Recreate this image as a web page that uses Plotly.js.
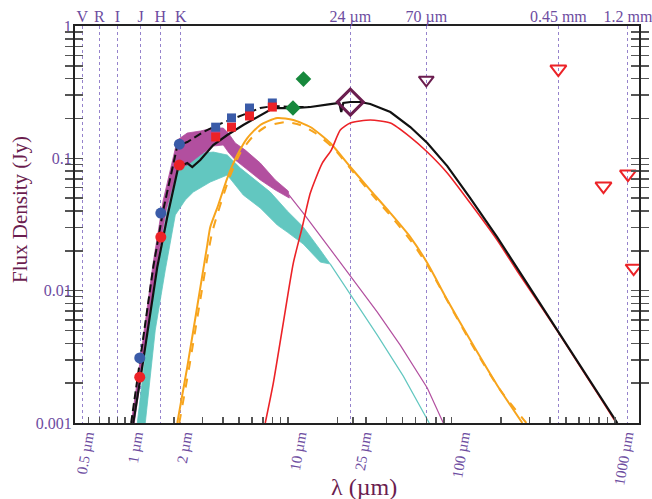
<!DOCTYPE html>
<html><head><meta charset="utf-8">
<script src="https://cdn.plot.ly/plotly-3.0.1.min.js"></script>
<style>html,body{margin:0;padding:0;background:#fff}#chart{width:652px;height:499px}</style>
</head><body><div id="chart"></div>
<script>
// ---- total model (solid black) ----
const modelLam = [1.127,1.298,1.581,1.820,2.125,2.413,2.589,2.898,3.48,4.24,5.31,6.75,8.11,10.75,13.66,18.1,20.55,21.13,21.74,24.0,27.6,31.8,42.2,55.9,71.0,94.1,130,190,252,335,444,588,779,1033];
const modelF   = [0.001,0.00299,0.0151,0.0360,0.0860,0.0921,0.0860,0.0971,0.1261,0.150,0.1786,0.2125,0.2399,0.2399,0.2443,0.2572,0.2618,0.2239,0.2618,0.2664,0.2664,0.2572,0.2239,0.1725,0.1305,0.0874,0.0501,0.0254,0.01482,0.00865,0.00504,0.00294,0.00171,0.001];
// ---- alternative model (dashed black) ----
const altLam = [1.094,1.244,1.494,1.720,2.096,2.413,2.626,3.023,3.682,4.423,5.62,6.75,8.11,10.75,13.66];
const altF   = [0.001,0.00299,0.01508,0.0407,0.1239,0.1328,0.1424,0.158,0.1786,0.1948,0.220,0.2399,0.2485,0.2443,0.2443];
// ---- cold blackbody (red) ----
const coldLam = [7.24,8.11,9.33,10.75,12.2,13.66,16.17,18.36,20.84,24.0,31.8,42.2,55.9,71.0,94.1,130,190,252,335,444,588,779,1004];
const coldF   = [0.001,0.0020,0.00569,0.01617,0.0303,0.0547,0.0921,0.1155,0.1637,0.1849,0.1948,0.1849,0.1448,0.1116,0.0775,0.0459,0.0241,0.01406,0.00834,0.00495,0.00289,0.00168,0.00103];
// ---- warm blackbody (orange solid / dashed) ----
const warmLam = [2.096,2.413,2.818,3.198,3.337,3.734,4.24,4.881,5.62,6.75,8.58,10.75,13.66,18.1,24.0,31.8,42.2,55.9,71.0,94.1,130,190,271];
const warmF   = [0.001,0.00265,0.0085,0.0221,0.0303,0.0444,0.0710,0.1059,0.1424,0.1786,0.2017,0.1948,0.1725,0.1305,0.086,0.0576,0.0386,0.0254,0.01617,0.0085,0.00423,0.00193,0.001];
const warm2Lam = [2.156,2.481,2.898,3.432,4.36,5.092,6.03,7.244,9.6,11.86,14.65,18.88,25.0,33.2,44.0,58.3,74.1,98.2,135.8,198.6,286.6];
const warm2F   = [0.001,0.00265,0.0085,0.0277,0.071,0.1096,0.1448,0.1725,0.1881,0.1786,0.1553,0.1197,0.0788,0.0519,0.0348,0.0225,0.0143,0.00765,0.00375,0.00177,0.001];
// ---- magenta spectrum (upper / lower envelope, then tail) ----
const magHiLam = [1.096,1.244,1.494,1.72,2.096,2.413,2.898,3.48,4.007,4.298,4.746,5.464,6.751,8.340,10.01];
const magHiF   = [0.001,0.00299,0.01644,0.0484,0.1375,0.1553,0.1608,0.1695,0.1695,0.1553,0.1305,0.1155,0.0921,0.0686,0.0566];
const magLoLam = [1.143,1.298,1.559,1.795,2.096,2.413,2.898,3.48,4.007,4.298,4.746,5.464,6.751,8.340,10.16];
const magLoF   = [0.001,0.00289,0.01508,0.0407,0.0845,0.089,0.1059,0.1239,0.1261,0.1116,0.0971,0.0845,0.0686,0.0576,0.0501];
const magTailLam = [10.1,12.37,17.35,24.0,35.11,48.5,71.0,88.96];
const magTailF   = [0.053,0.0386,0.0221,0.01289,0.00689,0.00388,0.00184,0.001];
// ---- cyan spectrum ----
const cyaHiLam = [1.193,1.335,1.537,1.770,2.038,2.186,2.626,3.023,3.48,4.24,5.092,6.115,7.773,9.874,12.37,15.72,18.1];
const cyaHiF   = [0.001,0.00326,0.01203,0.0342,0.0788,0.0860,0.1005,0.1096,0.1116,0.1059,0.0845,0.0710,0.0556,0.040,0.0303,0.0203,0.01589];
const cyaLoLam = [1.335,1.537,1.770,2.038,2.346,2.626,3.337,4.24,5.312,6.751,8.579,9.874,12.37,15.72,18.1];
const cyaLoF   = [0.001,0.00504,0.0143,0.0373,0.0484,0.0556,0.0662,0.0748,0.0528,0.0421,0.0313,0.0277,0.0225,0.01644,0.01589];
const cyaTailLam = [18.1,24.0,35.11,50.63,73.0];
const cyaTailF   = [0.01589,0.00942,0.00462,0.00226,0.001];
// ---- photometry ----
const nirLam = [1.235,1.662,2.159];
const nirBlue = [0.0031,0.0386,0.128];
const nirRed  = [0.00222,0.0254,0.089];
const iracLam = [3.6,4.5,5.8,8.0];
const iracBlue = [0.172,0.202,0.240,0.262];
const iracRed  = [0.145,0.172,0.209,0.244];
const greenLam = [10.7,12.4];
const greenF   = [0.240,0.397];
const mips24Lam = [24], mips24F = [0.266];
const mips70Lam = [70], mips70F = [0.391];
const submmLam = [450,850,1200,1300];
const submmF   = [0.473,0.0617,0.076,0.0148];
// ---- axis labels ----
const bandLam  = [0.55,0.70,0.90,1.25,1.65,2.2,24,70,450,1200];
const bandText = ['V','R','I','J','H','K','24 µm','70 µm','0.45 mm','1.2 mm'];
const xTickVals = [0.5,1,2,10,25,100,1000];
const xTickText = ['0.5 µm','1 µm','2 µm','10 µm','25 µm','100 µm','1000 µm'];
const yTickVals = [0.001,0.01,0.1,1];
const yTickText = ['0.001','0.01','0.1','1'];
const xTitle = 'λ (µm)';
const yTitle = 'Flux Density (Jy)';

const serif = 'Liberation Serif';
const purple = '#6d4c9f';
const maroon = '#6b1d4f';

// all tick positions (labelled ones + unlabelled log minor ones)
function tickSet(lo, hi, vals, texts){
  const v = [], t = [];
  for(let d=lo; d<=hi; d++) for(let k=1;k<10;k++){
    const x = k*Math.pow(10,d);
    const i = vals.findIndex(u => Math.abs(u-x)/x < 1e-6);
    v.push(x); t.push(i>=0 ? texts[i] : '');
  }
  vals.forEach((u,i)=>{ if(!v.some(x=>Math.abs(u-x)/x<1e-6)){ v.push(u); t.push(texts[i]); } });
  return {v, t};
}
const xt = tickSet(-1, 3, xTickVals, xTickText);
const yt = tickSet(-3, 0, yTickVals, yTickText);

function band(hiL, hiF, loL, loF, color){
  return {x: hiL.concat(loL.slice().reverse()), y: hiF.concat(loF.slice().reverse()),
    mode:'lines', fill:'toself', fillcolor: color, line:{color: color, width:0.8}, hoverinfo:'skip'};
}

const traces = [
  band(cyaHiLam, cyaHiF, cyaLoLam, cyaLoF, '#62c7c0'),
  {x: cyaTailLam, y: cyaTailF, mode:'lines', line:{color:'#62c7c0', width:1.2}},
  band(magHiLam, magHiF, magLoLam, magLoF, '#b24f9f'),
  {x: magTailLam, y: magTailF, mode:'lines', line:{color:'#b24f9f', width:1.2}},
  {x: warm2Lam, y: warm2F, mode:'lines', line:{color:'#f7a41c', width:2, dash:'dash', shape:'spline', smoothing:0.6}},
  {x: warmLam, y: warmF, mode:'lines', line:{color:'#f7a41c', width:2, shape:'spline', smoothing:0.6}},
  {x: coldLam, y: coldF, mode:'lines', line:{color:'#ec2227', width:1.6, shape:'spline', smoothing:0.6}},
  {x: altLam, y: altF, mode:'lines', line:{color:'#111', width:2, dash:'8px,4px'}},
  {x: modelLam, y: modelF, mode:'lines', line:{color:'#111', width:2.2}},
  {x: nirLam, y: nirBlue, mode:'markers', marker:{symbol:'circle', size:11, color:'#3a5ba8'}},
  {x: nirLam, y: nirRed, mode:'markers', marker:{symbol:'circle', size:11, color:'#ec2227'}},
  {x: iracLam, y: iracBlue, mode:'markers', marker:{symbol:'square', size:9, color:'#3a5ba8'}},
  {x: iracLam, y: iracRed, mode:'markers', marker:{symbol:'square', size:9, color:'#ec2227'}},
  {x: greenLam, y: greenF, mode:'markers', marker:{symbol:'diamond', size:12, color:'#17883c'}},
  {x: mips24Lam, y: mips24F, mode:'markers', marker:{symbol:'diamond-open', size:20, color:maroon, line:{width:3, color:maroon}}},
  {x: mips70Lam, y: mips70F, mode:'markers', marker:{symbol:'triangle-down-open', size:13, color:maroon, line:{width:2, color:maroon}}},
  {x: submmLam, y: submmF, mode:'markers', marker:{symbol:'triangle-down-open', size:14, color:'#ec2227', line:{width:2, color:'#ec2227'}}},
  {x: bandLam, y: bandLam.map(()=>null), xaxis:'x2', mode:'markers', hoverinfo:'skip'}
];

const xr = [Math.log10(0.496), Math.log10(1402)];
const layout = {
  width:652, height:499, showlegend:false,
  paper_bgcolor:'#fff', plot_bgcolor:'#fff',
  margin:{l:75, r:13, t:26, b:76},
  font:{family: serif, color: purple},
  xaxis:{type:'log', range: xr, showgrid:false, zeroline:false, automargin:false,
    showline:true, linecolor:'#222', linewidth:2, mirror:true,
    tickmode:'array', tickvals:xt.v, ticktext:xt.t, ticks:'inside', ticklen:6, tickwidth:1.5, tickcolor:'#555',
    tickangle:-80, ticklabelshift:11, ticklabelstandoff:-4, tickfont:{family:serif, size:15, color:purple}},
  xaxis2:{type:'log', range: xr, overlaying:'x', side:'top', showline:false, zeroline:false, automargin:false,
    tickmode:'array', tickvals:bandLam, ticktext:bandText, ticks:'', ticklabeloverflow:'allow',
    tickfont:{family:serif, size:16, color:purple},
    showgrid:true, gridcolor:'#9683cc', griddash:'dot', gridwidth:1},
  yaxis:{type:'log', range:[-3,0], showgrid:false, zeroline:false, automargin:false,
    showline:true, linecolor:'#222', linewidth:2, mirror:'allticks',
    tickmode:'array', tickvals:yt.v, ticktext:yt.t, ticks:'inside', ticklen:8, tickcolor:'#555', tickwidth:1.5,
    ticklabelstandoff:-2, tickfont:{family:serif, size:16, color:purple}},
  annotations:[
    {text:xTitle, xref:'paper', yref:'paper', x:0.5124, y:-0.1612, xanchor:'center', yanchor:'middle',
     showarrow:false, font:{family:serif, size:24, color:maroon}},
    {text:yTitle, xref:'paper', yref:'paper', x:-0.0975, y:0.5365, xanchor:'center', yanchor:'middle',
     textangle:-90, showarrow:false, font:{family:serif, size:21, color:maroon}}
  ]
};

Plotly.newPlot('chart', traces, layout, {displayModeBar:false, staticPlot:true});
</script></body></html>
